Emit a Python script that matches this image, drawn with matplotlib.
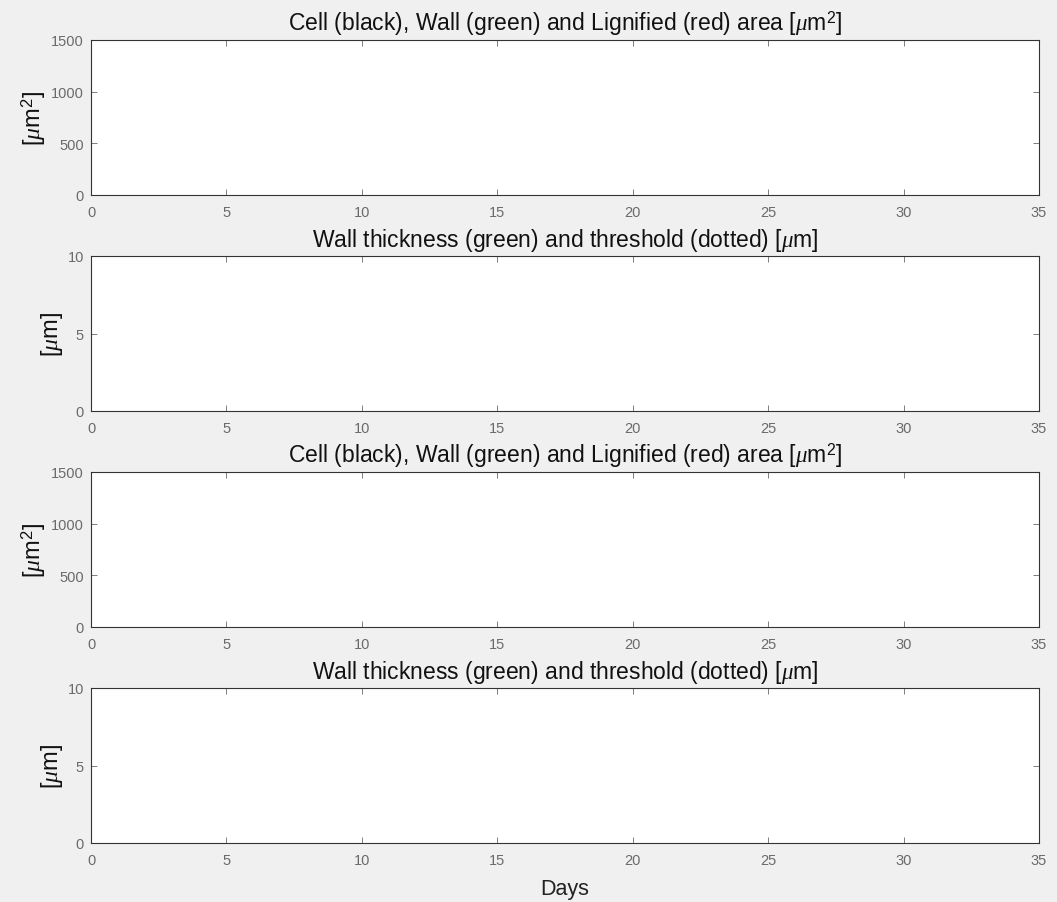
import matplotlib
matplotlib.use('Agg')
import matplotlib.pyplot as plt
import numpy as np

plt.rcParams['font.family'] = ['Liberation Sans', 'DejaVu Sans']
plt.rcParams['mathtext.fontset'] = 'custom'
plt.rcParams['mathtext.rm'] = 'Liberation Sans'
plt.rcParams['mathtext.it'] = 'Liberation Serif:italic'

# panel setup (axes are empty in the reference)
titles = ['Cell (black), Wall (green) and Lignified (red) area [$\\mu$m$^2$]',
          'Wall thickness (green) and threshold (dotted) [$\\mu$m]',
          'Cell (black), Wall (green) and Lignified (red) area [$\\mu$m$^2$]',
          'Wall thickness (green) and threshold (dotted) [$\\mu$m]']
ylabels = ['[$\\mu$m$^2$]', '[$\\mu$m]', '[$\\mu$m$^2$]', '[$\\mu$m]']
xticks = [0, 5, 10, 15, 20, 25, 30, 35]
area_ticks = [0, 500, 1000, 1500]
thick_ticks = [0, 5, 10]
yticks = [area_ticks, thick_ticks, area_ticks, thick_ticks]

bg = '#f0f0f0'
fig = plt.figure(figsize=(10.57, 9.03), dpi=100, facecolor=bg)

W, H = 1057.0, 903.0
left, right = 91, 1039
tops = [41, 257, 473, 689]
height = 155

for i in range(4):
    ax = fig.add_axes([left / W, 1 - (tops[i] + height) / H, (right - left) / W, height / H])
    ax.set_facecolor('white')
    ax.set_xlim(xticks[0], xticks[-1])
    ax.set_ylim(yticks[i][0], yticks[i][-1])
    ax.set_xticks(xticks)
    ax.set_yticks(yticks[i])
    ax.tick_params(direction='in', top=True, right=True, length=4, width=0.6,
                   labelsize=10.5, colors='#6a6a6a')
    ax.tick_params(axis='x', pad=7)
    ax.tick_params(axis='y', pad=5)
    for s in ax.spines.values():
        s.set_linewidth(0.8)
        s.set_color('#333333')
    ax.set_title(titles[i], fontsize=16.5, color='#111111', pad=7)
    ax.set_ylabel(ylabels[i], fontsize=17, color='#111111', labelpad=2)
    if i == 3:
        ax.set_xlabel('Days', fontsize=15.5, color='#222222', labelpad=8)

plt.savefig('out.png', dpi=100, facecolor=bg)
